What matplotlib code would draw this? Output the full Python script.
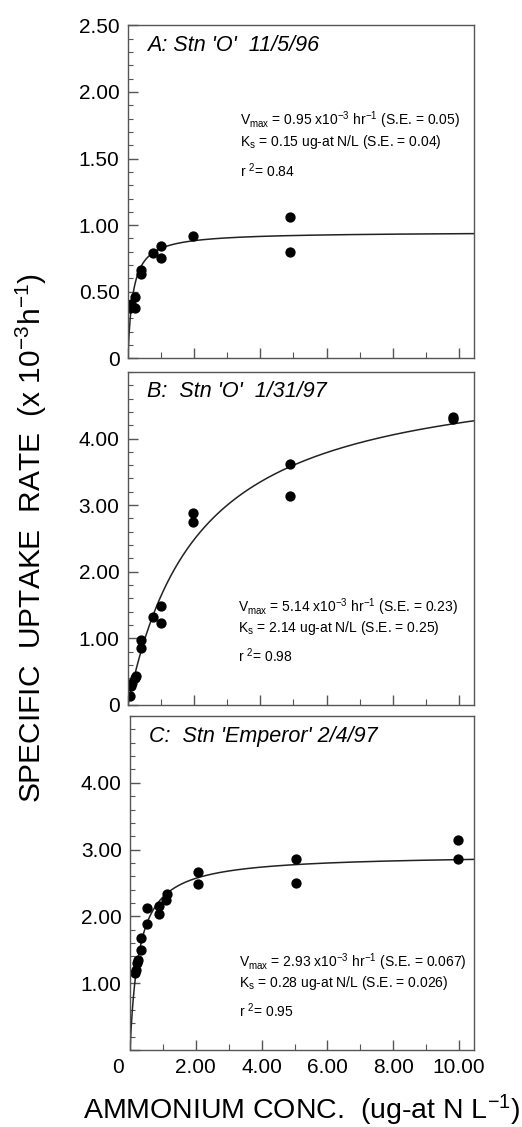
import numpy as np
import matplotlib
matplotlib.use("Agg")
import matplotlib.pyplot as plt
import matplotlib.transforms as mtransforms
from matplotlib.ticker import MultipleLocator, FixedLocator

plt.rcParams['font.family'] = ['Liberation Sans', 'DejaVu Sans']
plt.rcParams['mathtext.fontset'] = 'custom'
plt.rcParams['mathtext.rm'] = 'Liberation Sans'
plt.rcParams['mathtext.it'] = 'Liberation Sans:italic'

# ---------------- data ----------------
titles = ["A: Stn 'O'  11/5/96", "B:  Stn 'O'  1/31/97", "C:  Stn 'Emperor' 2/4/97"]

xA = [0.07, 0.09, 0.20, 0.20, 0.40, 0.40, 0.75, 1.00, 1.00, 1.96, 4.90, 4.90]
yA = [0.38, 0.41, 0.46, 0.38, 0.63, 0.66, 0.79, 0.84, 0.75, 0.92, 1.065, 0.80]

xB = [0.05, 0.10, 0.13, 0.20, 0.23, 0.40, 0.40, 0.75, 1.00, 1.00, 1.98, 1.98, 4.90, 4.90, 9.82, 9.82]
yB = [0.14, 0.28, 0.33, 0.40, 0.44, 0.85, 0.97, 1.32, 1.49, 1.23, 2.88, 2.74, 3.61, 3.13, 4.32, 4.29]

xC = [0.15, 0.18, 0.22, 0.25, 0.32, 0.32, 0.53, 0.53, 0.88, 0.88, 1.10, 1.12, 2.08, 2.08, 5.04, 5.04, 9.96, 9.96]
yC = [1.15, 1.20, 1.30, 1.35, 1.49, 1.68, 1.88, 2.12, 2.03, 2.15, 2.25, 2.33, 2.66, 2.49, 2.86, 2.50, 3.14, 2.86]

vmax = [0.95, 5.14, 2.93]
ks = [0.15, 2.14, 0.28]
vmax_se = ["0.05", "0.23", "0.067"]
ks_se = ["0.04", "0.25", "0.026"]
r2 = ["0.84", "0.98", "0.95"]

ylims = [2.5, 5.0, 5.0]
ymajor = [[0, 0.5, 1.0, 1.5, 2.0, 2.5], [0, 1, 2, 3, 4], [0, 1, 2, 3, 4]]
ylabels_ticks = [["0", "0.50", "1.00", "1.50", "2.00", "2.50"],
                 ["0", "1.00", "2.00", "3.00", "4.00"],
                 ["", "1.00", "2.00", "3.00", "4.00"]]
yminor = [0.1, 0.2, 0.2]
xticks = [0, 2, 4, 6, 8, 10]
xticklabels = ["0", "2.00", "4.00", "6.00", "8.00", "10.00"]

xs_all = [xA, xB, xC]
ys_all = [yA, yB, yC]

# ---------------- figure ----------------
fig = plt.figure(figsize=(5.22, 11.27), dpi=100)
positions = [[0.245, 0.682, 0.663, 0.2955],
             [0.245, 0.3745, 0.663, 0.2955],
             [0.249, 0.0683, 0.659, 0.2964]]
ann_pos = [(0.324, 0.715), (0.318, 0.294), (0.318, 0.263)]
line_gap = [0.066, 0.063, 0.063]

spine_col = '#555555'
for i in range(3):
    ax = fig.add_axes(positions[i])
    xfit = np.linspace(0, 10.45, 600)
    ax.plot(xfit, vmax[i] * xfit / (ks[i] + xfit), color='#222222', lw=1.1)
    ax.plot(xs_all[i], ys_all[i], 'o', color='black', ms=6.4, mec='black')
    ax.set_xlim(0, 10.45)
    ax.set_ylim(0, ylims[i])
    ax.yaxis.set_major_locator(FixedLocator(ymajor[i]))
    ax.set_yticklabels(ylabels_ticks[i])
    ax.yaxis.set_minor_locator(MultipleLocator(yminor[i]))
    ax.set_xticks(xticks)
    ax.xaxis.set_minor_locator(MultipleLocator(1))
    if i == 2:
        ax.set_xticklabels(xticklabels)
    else:
        ax.set_xticklabels([])
    ax.tick_params(axis='both', which='both', direction='in', labelsize=15,
                   right=False, top=False, color=spine_col)
    ax.tick_params(axis='y', which='major', length=7, width=1, pad=6)
    ax.tick_params(axis='y', which='minor', length=3.5, width=0.8)
    ax.tick_params(axis='x', which='major', length=7, width=1, pad=6)
    ax.tick_params(axis='x', which='minor', length=4, width=0.8)
    if i == 2:
        lab0 = ax.get_xticklabels()[0]
        lab0.set_transform(lab0.get_transform() +
                           mtransforms.ScaledTranslation(-12 / 100, 0, fig.dpi_scale_trans))
    for s in ax.spines.values():
        s.set_color(spine_col)
        s.set_linewidth(1.0)
    ax.text(0.055, 0.94, titles[i], transform=ax.transAxes, fontsize=15.5,
            style='italic', ha='left', va='center')
    ax0, ay0 = ann_pos[i]
    g = line_gap[i]
    ax.text(ax0, ay0, r'$\mathregular{V_{max}}$' + ' = %.2f x10$^{\\mathregular{-3}}$ hr$^{\\mathregular{-1}}$ (S.E. = %s)' % (vmax[i], vmax_se[i]),
            transform=ax.transAxes, fontsize=10, ha='left', va='center')
    ax.text(ax0, ay0 - g, r'$\mathregular{K_{s}}$' + ' = %.2f ug-at N/L (S.E. = %s)' % (ks[i], ks_se[i]),
            transform=ax.transAxes, fontsize=10, ha='left', va='center')
    ax.text(ax0, ay0 - 2.3 * g, 'r $^{\\mathregular{2}}$= %s' % r2[i],
            transform=ax.transAxes, fontsize=10, ha='left', va='center')

fig.text(0.061, 0.5226, 'SPECIFIC  UPTAKE  RATE  (x 10$^{\\mathregular{-3}}$h$^{\\mathregular{-1}}$)',
         rotation=90, fontsize=21.5, ha='center', va='center')
fig.text(0.578, 0.015, 'AMMONIUM CONC.  (ug-at N L$^{\\mathregular{-1}}$)',
         fontsize=20.5, ha='center', va='center')

fig.savefig('out.png', dpi=100)
